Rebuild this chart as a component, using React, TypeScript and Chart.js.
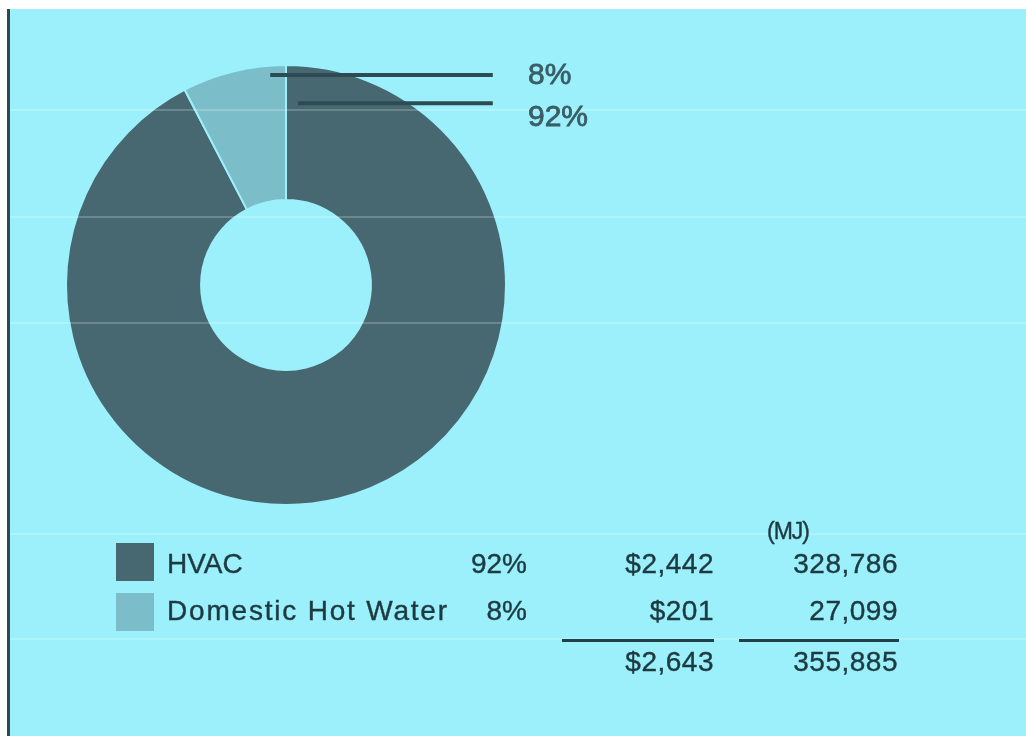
import React, { useEffect, useRef } from 'react';
import { Chart, registerables } from 'chart.js';

Chart.register(...registerables);

// ---- data ----
const categories = ['HVAC', 'Domestic Hot Water'];
const percentLabels = ['92%', '8%'];
const costValues = [2442, 201];
const energyValues = [328786, 27099];
const energyUnit = '(MJ)';
const sliceColors = ['#476870', '#7BBDC8'];

// ---- style constants ----
const W = 1026;
const H = 736;
const FONT = '"Liberation Sans", Arial, Helvetica, sans-serif';
const TEXT_DARK = '#1E3A41';
const BG = '#9BF0FB';

const fmtMoney = (v: number) => '$' + v.toLocaleString('en-US');
const fmtNum = (v: number) => v.toLocaleString('en-US');

const bandPlugin = {
  id: 'bands',
  afterDatasetsDraw(chart: any) {
    const ctx = chart.ctx;
    ctx.save();
    ctx.strokeStyle = 'rgba(255,255,255,0.2)';
    ctx.lineWidth = 2;
    for (const y of [110, 217, 323, 534, 639]) {
      ctx.beginPath();
      ctx.moveTo(10, y);
      ctx.lineTo(W, y);
      ctx.stroke();
    }
    ctx.restore();
  },
};

const leaderPlugin = {
  id: 'leaders',
  afterDraw(chart: any) {
    const meta = chart.getDatasetMeta(0);
    const ctx = chart.ctx;
    const order = [1, 0];
    ctx.save();
    order.forEach((idx, row) => {
      const arc = meta.data[idx];
      if (!arc) return;
      const p = arc.getProps(['x', 'y', 'outerRadius', 'startAngle', 'endAngle'], true);
      const R = p.outerRadius;
      const a = row === 0 ? p.endAngle - 0.075 : p.startAngle + 0.066;
      const r = R * (row === 0 ? 0.957 : 0.828);
      const ax = p.x + r * Math.cos(a);
      const ay = p.y + r * Math.sin(a);
      ctx.strokeStyle = '#2D4B52';
      ctx.lineWidth = 4;
      ctx.beginPath();
      ctx.moveTo(ax, ay);
      ctx.lineTo(p.x + R * 0.94, ay);
      ctx.stroke();
      ctx.fillStyle = '#3A5D66';
      ctx.strokeStyle = '#3A5D66';
      ctx.lineWidth = 0.8;
      ctx.font = '30px ' + FONT;
      ctx.textAlign = 'left';
      ctx.textBaseline = 'alphabetic';
      const tx = p.x + R * 1.1;
      const ty = p.y - R * 0.914 + row * 42;
      ctx.fillText(percentLabels[idx], tx, ty);
      ctx.strokeText(percentLabels[idx], tx, ty);
    });
    ctx.restore();
  },
};

function ChartCanvas() {
  const ref = useRef<HTMLCanvasElement | null>(null);
  useEffect(() => {
    if (!ref.current) return;
    const chart = new Chart(ref.current, {
      type: 'doughnut',
      data: {
        labels: categories,
        datasets: [
          {
            data: energyValues,
            backgroundColor: sliceColors,
            borderColor: BG,
            borderWidth: 2,
            hoverOffset: 0,
          },
        ],
      },
      options: {
        responsive: false,
        animation: false,
        devicePixelRatio: 1,
        cutout: '38.6%',
        layout: { padding: { left: 65, top: 64, right: 519, bottom: 230 } },
        plugins: {
          legend: { display: false },
          tooltip: { enabled: false },
        },
      },
      plugins: [bandPlugin, leaderPlugin],
    } as any);
    return () => chart.destroy();
  }, []);
  return (
    <canvas
      ref={ref}
      width={W}
      height={H}
      style={{ position: 'absolute', left: 0, top: 0, width: W, height: H }}
    />
  );
}

const textBase: React.CSSProperties = {
  position: 'absolute',
  fontFamily: FONT,
  fontSize: 28,
  lineHeight: '28px',
  color: TEXT_DARK,
  whiteSpace: 'nowrap',
  WebkitTextStroke: '0.4px ' + TEXT_DARK,
};

export default function App() {
  const totalCost = costValues.reduce((a, b) => a + b, 0);
  const totalEnergy = energyValues.reduce((a, b) => a + b, 0);
  const rowBaseline = (i: number) => 574 + i * 47;
  const topFor = (baseline: number) => baseline - 24;
  return (
    <div style={{ position: 'absolute', left: 0, top: 0, width: W, height: H, background: '#ffffff', overflow: 'hidden' }}>
      <div style={{ position: 'absolute', left: 10, top: 9, width: W - 10, height: H - 9, background: BG }} />
      <div style={{ position: 'absolute', left: 7, top: 9, width: 3, height: H - 9, background: '#2E4A50' }} />
      <ChartCanvas />
      <div style={{ ...textBase, left: 767, top: 520, fontSize: 23, lineHeight: '23px', letterSpacing: '-1px' }}>{energyUnit}</div>
      {categories.map((c, i) => (
        <React.Fragment key={c}>
          <div style={{ position: 'absolute', left: 116, top: 543 + i * 50, width: 38, height: 38, background: sliceColors[i] }} />
          <div style={{ ...textBase, left: 167, top: topFor(rowBaseline(i)), letterSpacing: i === 0 ? '0px' : '1.8px' }}>{c}</div>
          <div style={{ ...textBase, right: W - 527, top: topFor(rowBaseline(i)), letterSpacing: '0px' }}>{percentLabels[i]}</div>
          <div style={{ ...textBase, right: W - 714, top: topFor(rowBaseline(i)), letterSpacing: '0.5px' }}>{fmtMoney(costValues[i])}</div>
          <div style={{ ...textBase, right: W - 898, top: topFor(rowBaseline(i)), letterSpacing: '0.5px' }}>{fmtNum(energyValues[i])}</div>
        </React.Fragment>
      ))}
      <div style={{ position: 'absolute', left: 562, top: 639, width: 152, height: 3, background: '#234048' }} />
      <div style={{ position: 'absolute', left: 739, top: 639, width: 160, height: 3, background: '#234048' }} />
      <div style={{ ...textBase, right: W - 714, top: topFor(672), letterSpacing: '0.5px' }}>{fmtMoney(totalCost)}</div>
      <div style={{ ...textBase, right: W - 898, top: topFor(672), letterSpacing: '0.5px' }}>{fmtNum(totalEnergy)}</div>
    </div>
  );
}
